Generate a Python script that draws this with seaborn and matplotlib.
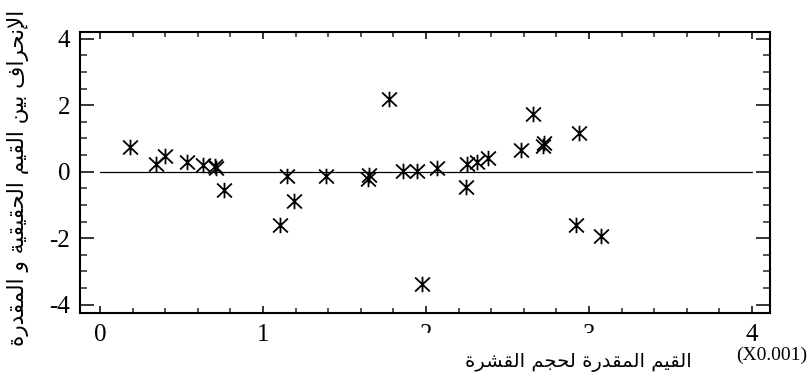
import unicodedata
import numpy as np
import pandas as pd
import matplotlib
matplotlib.use("Agg")
import matplotlib.pyplot as plt
from matplotlib.path import Path
from matplotlib.patches import Rectangle
from matplotlib.ticker import MultipleLocator
import seaborn as sns

# ---- data ----
estimated = [0.184, 0.344, 0.399, 0.532, 0.634, 0.706, 0.712, 0.761, 1.104, 1.145,
             1.190, 1.387, 1.642, 1.652, 1.775, 1.861, 1.943, 1.973, 2.066, 2.245,
             2.250, 2.315, 2.383, 2.583, 2.658, 2.718, 2.724, 2.920, 2.941, 3.072]
residual = [0.74, 0.22, 0.47, 0.30, 0.20, 0.18, 0.12, -0.56, -1.60, -0.13,
            -0.88, -0.13, -0.23, -0.11, 2.20, 0.02, 0.02, -3.38, 0.10, -0.46,
            0.22, 0.29, 0.42, 0.64, 1.72, 0.78, 0.85, -1.60, 1.17, -1.93]
zero_line_x = [0, 4]
zero_line_y = [0, 0]
x_ticks = [0, 1, 2, 3, 4]
y_ticks = [-4, -2, 0, 2, 4]
x_label = "القيم المقدرة لحجم القشرة"
y_label = "الإنحراف بين القيم الحقيقية و المقدرة"
x_scale_note = "(X0.001)"


def shape_arabic(text):
    """Minimal Arabic shaping: contextual forms + lam-alef ligatures, visual order."""
    tokens = []
    i = 0
    while i < len(text):
        ch = text[i]
        name = unicodedata.name(ch, "")
        if name == "ARABIC LETTER LAM" and i + 1 < len(text):
            nxt = unicodedata.name(text[i + 1], "")
            if nxt.startswith("ARABIC LETTER ALEF"):
                tokens.append(("ARABIC LIGATURE LAM WITH " + nxt[len("ARABIC LETTER "):], False))
                i += 2
                continue
        if name.startswith("ARABIC LETTER"):
            try:
                unicodedata.lookup(name + " INITIAL FORM")
                dual = True
            except KeyError:
                dual = False
            tokens.append((name, dual))
        else:
            tokens.append((ch, None))
        i += 1
    out = []
    for k, (nm, dual) in enumerate(tokens):
        if dual is None:
            out.append(nm)
            continue
        prev_join = k > 0 and tokens[k - 1][1] is True
        next_join = dual and k + 1 < len(tokens) and tokens[k + 1][1] is not None
        if prev_join and next_join:
            form = "MEDIAL"
        elif prev_join:
            form = "FINAL"
        elif next_join:
            form = "INITIAL"
        else:
            form = "ISOLATED"
        try:
            out.append(unicodedata.lookup(nm + " " + form + " FORM"))
        except KeyError:
            try:
                out.append(unicodedata.lookup(nm))
            except KeyError:
                out.append("?")
    return "".join(reversed(out))


sns.set_theme(style="white")
plt.rcParams["font.family"] = ["Liberation Serif", "DejaVu Serif"]

df = pd.DataFrame({"est": estimated, "res": residual})

fig = plt.figure(figsize=(8.08, 3.87), dpi=100)
ax = fig.add_axes([80 / 808, 1 - 313 / 387, 690 / 808, 281 / 387])

star = Path([(0, -1), (0, 1), (-0.95, -0.9), (0.95, 0.9), (-0.95, 0.9), (0.95, -0.9)],
            [Path.MOVETO, Path.LINETO] * 3)

ax.plot(zero_line_x, zero_line_y, color="black", lw=0.9, zorder=1)
sns.scatterplot(data=df, x="est", y="res", marker=star, s=125, color="black",
                edgecolor="black", linewidth=1.3, ax=ax, zorder=3, legend=False)

ax.set_xlim(-0.123, 4.11)
ax.set_ylim(-4.25, 4.2)
ax.set_xticks(x_ticks)
ax.set_yticks(y_ticks)
ax.xaxis.set_minor_locator(MultipleLocator(0.2))
ax.yaxis.set_minor_locator(MultipleLocator(0.5))
ax.set_xticklabels([str(v) for v in x_ticks])
ax.set_yticklabels([str(v) for v in y_ticks])
ax.set_xlabel("")
ax.set_ylabel("")

for s in ax.spines.values():
    s.set_visible(True)
    s.set_color("black")
    s.set_linewidth(1.5)

ax.tick_params(axis="x", which="major", direction="in", length=5, width=1.1,
               top=True, bottom=True, labelsize=18, pad=8, colors="black")
ax.tick_params(axis="x", which="minor", direction="in", length=3.5, width=1.1,
               top=True, bottom=True)
ax.tick_params(axis="y", which="major", direction="in", length=10, width=1.1,
               left=True, right=True, labelsize=18, pad=7, colors="black")
ax.tick_params(axis="y", which="minor", direction="in", length=5, width=1.1,
               left=True, right=True)

# white box behind the x label (it hides part of the tick labels, as in the reference)
fig.add_artist(Rectangle((400 / 808, 0), 340 / 808, (387 - 333) / 387,
                         transform=fig.transFigure, facecolor="white",
                         edgecolor="none", zorder=2))
fig.text(578 / 808, 1 - 363 / 387, shape_arabic(x_label), family="DejaVu Sans",
         fontsize=14, ha="center", va="center", color="black", zorder=3)
fig.text(18 / 808, 1 - 178 / 387, shape_arabic(y_label), family="DejaVu Sans",
         fontsize=15.5, ha="center", va="center", rotation=90, color="black", zorder=3)
fig.text(772 / 808, 1 - 355 / 387, x_scale_note, fontsize=14, ha="center",
         va="center", color="black", zorder=3)

fig.savefig("out.png", dpi=100, facecolor="white")
